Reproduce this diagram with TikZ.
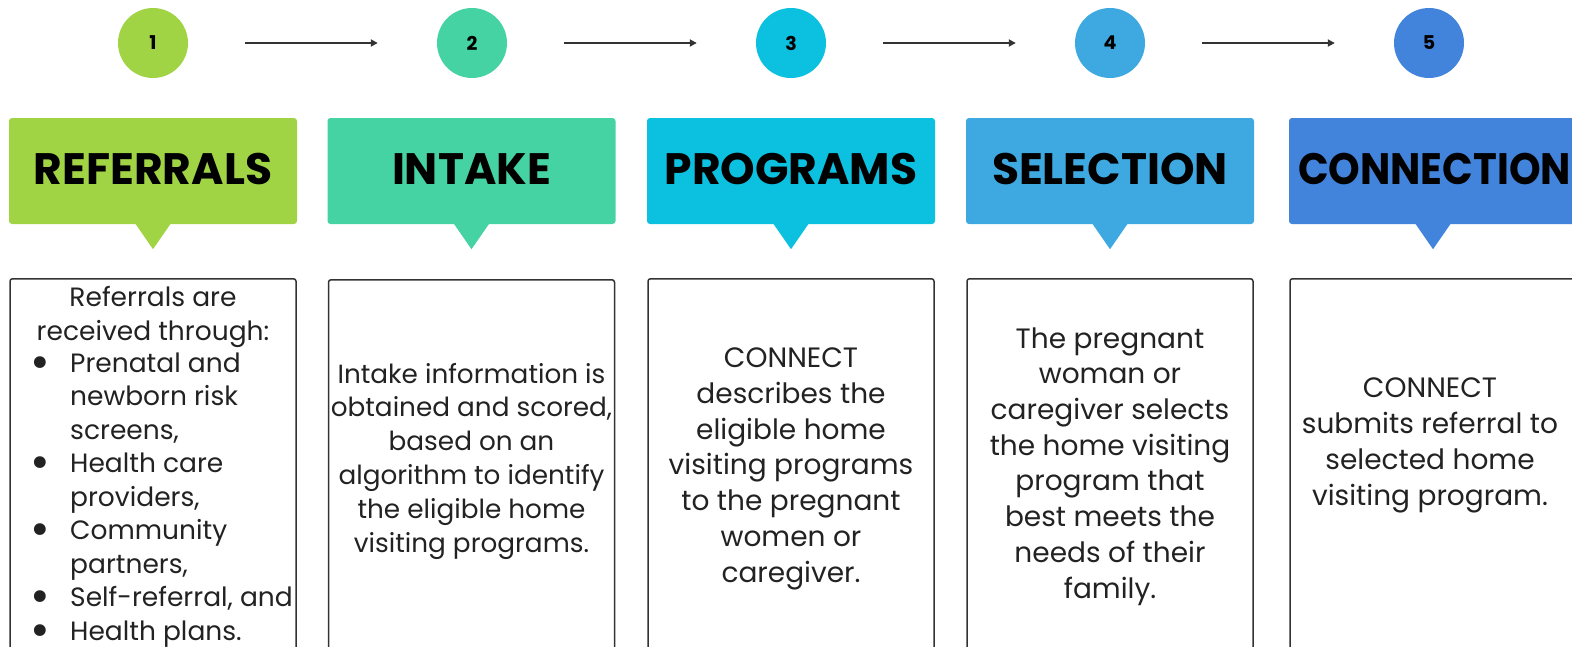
\documentclass[tikz,border=0pt]{standalone}
\usepackage{fontspec}
\usepackage{graphicx}
\setmainfont{Poppins}
\usetikzlibrary{arrows.meta}
\definecolor{cA}{HTML}{A1D445}
\definecolor{cB}{HTML}{45D3A3}
\definecolor{cC}{HTML}{0CC0E0}
\definecolor{cD}{HTML}{3EA9E0}
\definecolor{cE}{HTML}{4283DC}
\definecolor{boxgray}{HTML}{333333}
\definecolor{arrgray}{HTML}{333333}
\definecolor{txt}{HTML}{222222}
\newcommand{\bigbul}{\llap{\raisebox{-6pt}{\scalebox{1.8}{\textbullet}}\hspace{20pt}}}
\begin{document}
\begin{tikzpicture}[x=1pt,y=-1pt,
  numc/.style={circle, minimum size=70pt, inner sep=0pt, font=\bfseries\fontsize{19}{19}\selectfont},
  hdr/.style={rectangle, rounded corners=3pt, minimum width=288pt, minimum height=106pt, inner sep=0pt},
  hdrtext/.style={inner sep=0pt, font=\bfseries\fontsize{44}{44}\selectfont},
  tbox/.style={draw=boxgray, line width=1.5pt, rounded corners=2.5pt, minimum width=286pt, minimum height=400pt, anchor=north, inner sep=0pt},
  bodyA/.style={align=center, text=txt, font=\fontsize{26.5}{33.5}\selectfont, inner sep=0pt, anchor=base},
  bodyB/.style={align=center, text=txt, font=\fontsize{26.3}{33.8}\selectfont, inner sep=0pt, anchor=base},
  bodyC/.style={align=center, text=txt, font=\fontsize{28}{35.7}\selectfont, inner sep=0pt, anchor=base},
  flow/.style={draw=arrgray, line width=1.8pt, -{Triangle[length=7pt,width=7pt]}, shorten <=57pt, shorten >=59pt}]
\useasboundingbox (0,0) rectangle (1572,646);
\clip (0,0) rectangle (1572,646);
% circles
\node[numc, fill=cA] (n1) at (153,43) {1};
\node[numc, fill=cB] (n2) at (472,43) {2};
\node[numc, fill=cC] (n3) at (791,43) {3};
\node[numc, fill=cD] (n4) at (1110,43) {4};
\node[numc, fill=cE] (n5) at (1429,43) {5};
\draw[flow] (n1) -- (n2);
\draw[flow] (n2) -- (n3);
\draw[flow] (n3) -- (n4);
\draw[flow] (n4) -- (n5);
% headers
\node[hdr, fill=cA] (h1) at (153,171) {};
\node[hdr, fill=cB] (h2) at (471.5,171) {};
\node[hdr, fill=cC] (h3) at (791,171) {};
\node[hdr, fill=cD] (h4) at (1110,171) {};
\node[hdr, fill=cE] (h5) at (1433,171) {};
\foreach \h/\c in {h1/cA,h2/cB,h3/cC,h4/cD,h5/cE}{
  \fill[\c] ([xshift=-18pt,yshift=1pt]\h.south) -- ([xshift=18pt,yshift=1pt]\h.south) -- ([yshift=-25pt]\h.south) -- cycle;
}
\node[hdrtext] (ht1) at ([yshift=2pt]h1.center) {REFERRALS};
\node[hdrtext] (ht2) at ([yshift=2pt]h2.center) {INTAKE};
\node[hdrtext] (ht3) at ([yshift=2pt]h3.center) {PROGRAMS};
\node[hdrtext] (ht4) at ([yshift=2pt]h4.center) {SELECTION};
\node[hdrtext, anchor=west] (ht5) at ([xshift=9pt,yshift=2pt]h5.west) {\scalebox{0.915}[1]{CONNECTION}};
% text boxes
\node[tbox] (b1) at (153,278) {};
\node[tbox] (b2) at (471.5,279) {};
\node[tbox] (b3) at (791,278) {};
\node[tbox] (b4) at (1110,278) {};
\node[tbox] (b5) at (1433,278) {};
% texts
\node[bodyA] (t1a) at (153,340) {Referrals are\\received through:};
\node[bodyA, align=left, anchor=base west] (t1b) at (70,640) {%
\bigbul Prenatal and\\newborn risk\\screens,\\
\bigbul Health care\\providers,\\
\bigbul Community\\partners,\\
\bigbul Self-referral, and\\
\bigbul Health plans.};
\node[bodyB] (t2) at (471.5,552) {Intake information is\\obtained and scored,\\based on an\\algorithm to identify\\the eligible home\\visiting programs.};
\node[bodyC] (t3) at (791,582) {CONNECT\\describes the\\eligible home\\visiting programs\\to the pregnant\\women or\\caregiver.};
\node[bodyC] (t4) at (1110,598) {The pregnant\\woman or\\caregiver selects\\the home visiting\\program that\\best meets the\\needs of their\\family.};
\node[bodyC] (t5) at (1430,505) {CONNECT\\submits referral to\\selected home\\visiting program.};
\end{tikzpicture}
\end{document}
